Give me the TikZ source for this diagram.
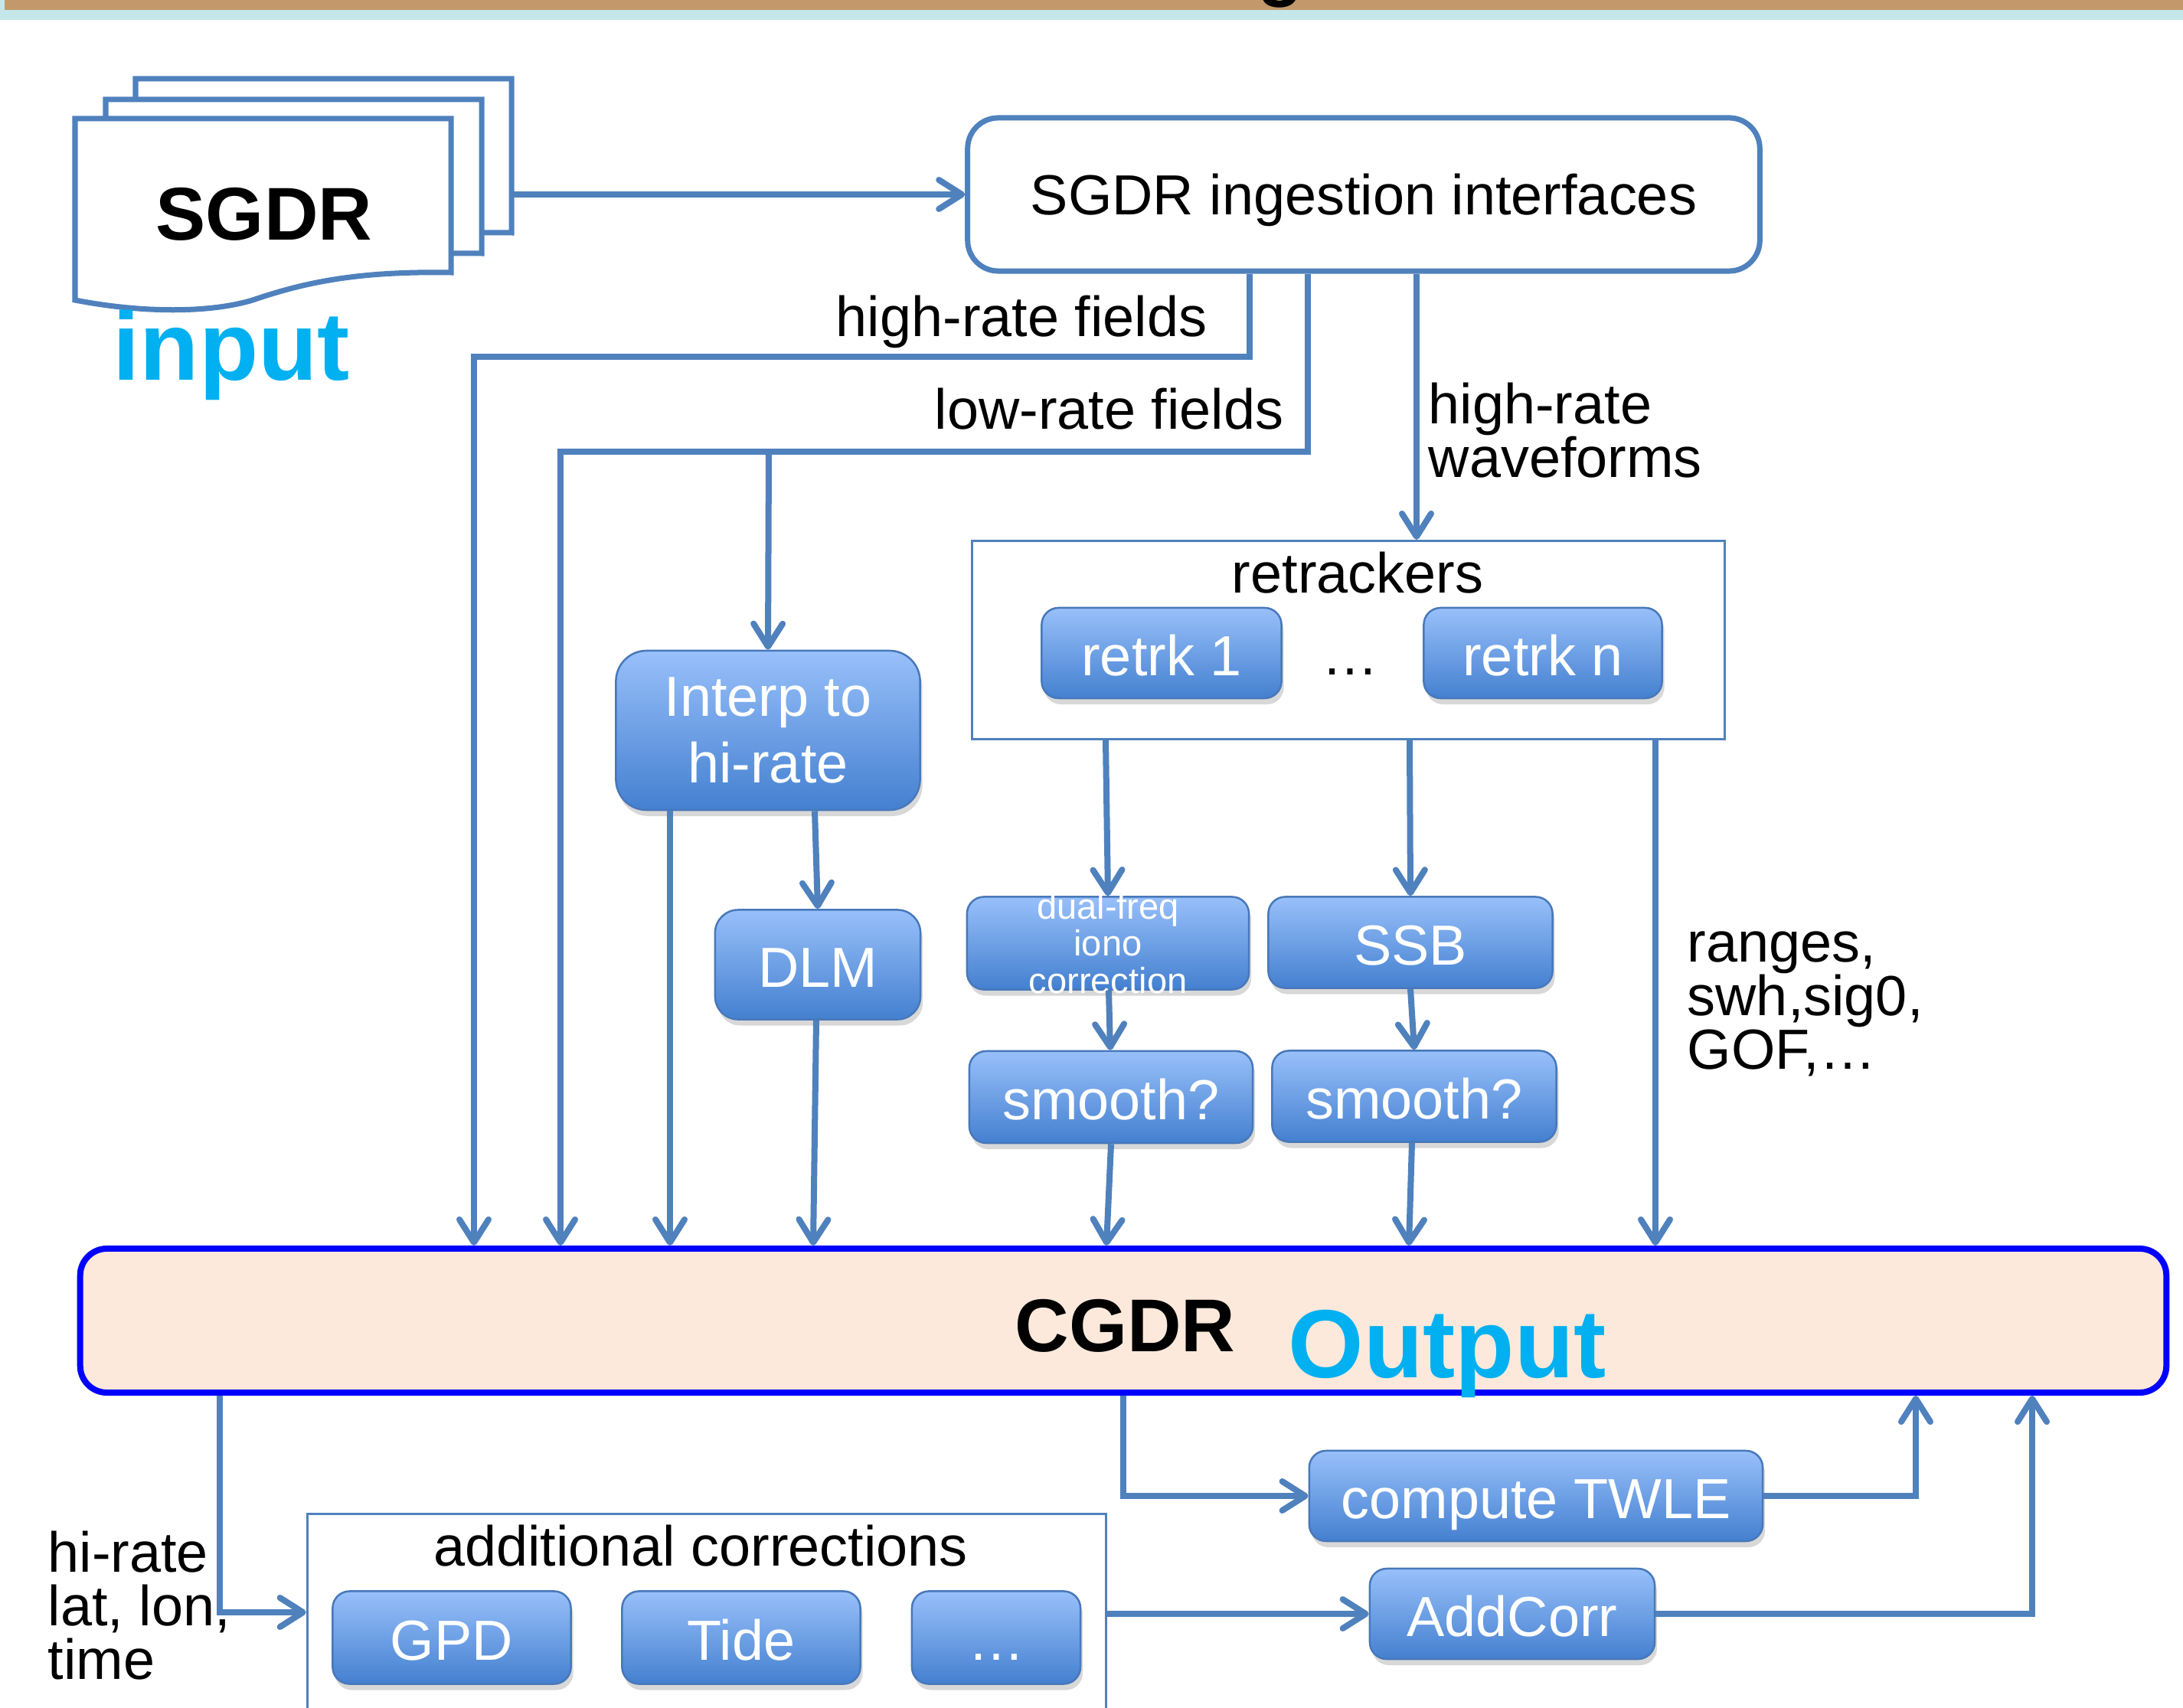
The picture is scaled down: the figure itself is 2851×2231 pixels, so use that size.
\documentclass[tikz,border=0pt]{standalone}
\usepackage{fontspec}
\setmainfont{Liberation Sans}
\usepackage{xcolor}
\usepackage{tikz}
\usetikzlibrary{arrows.meta,shadows}

\definecolor{lineblue}{RGB}{79,129,189}
\definecolor{boxtop}{RGB}{152,192,250}
\definecolor{boxbot}{RGB}{68,128,208}
\definecolor{boxedge}{RGB}{72,120,186}
\definecolor{outfill}{RGB}{252,233,219}
\definecolor{titlecyan}{RGB}{0,176,240}
\definecolor{bartan}{RGB}{195,153,107}
\definecolor{barcyan}{RGB}{197,231,234}

\newcommand{\txtnorm}{\fontsize{21}{19.9}\selectfont}
\newcommand{\txtbold}{\fontsize{27.8}{30}\selectfont\bfseries}
\newcommand{\txthuge}{\fontsize{36}{40}\selectfont\bfseries}
\newcommand{\txtsmall}{\fontsize{13.4}{13.7}\selectfont}

\tikzset{
  conn/.style={draw=lineblue, line width=0.08cm, -{Straight Barb[length=0.3cm,width=0.38cm,round]}},
  page/.style={draw=lineblue, line width=0.07cm, fill=white},
  bluebox/.style={draw=boxedge, line width=0.025cm, rounded corners=0.22cm,
    top color=boxtop, bottom color=boxbot, text=white, inner sep=0pt, align=center,
    drop shadow={shadow xshift=0.03cm, shadow yshift=-0.08cm, opacity=0.3}},
  bluetext/.style={bluebox, text height=0.58cm, text depth=0pt},
  groupbox/.style={draw=lineblue, line width=0.03cm, inner sep=0pt},
}

\begin{document}
\begin{tikzpicture}[x=0.01cm, y=-0.01cm, font=\txtnorm]
        \useasboundingbox (0,0) rectangle (2851,2231);
        \clip (0,0) rectangle (2851,2231);
        \fill[white] (0,0) rectangle (2851,2231);

        % title bar, cut at the top
        \fill[barcyan] (0,0) rectangle (2851,26);
        \fill[bartan] (6,0) rectangle (2851,13);
        \node[anchor=base, font=\txtbold, inner sep=0pt] (titleg) at (1672,-10) {g};

        % stack of SGDR files
        \foreach \dx/\dy in {79/-52, 40/-25, 0/0}
        \draw[page, shift={(\dx,\dy)}] (98,155) -- (589,155) -- (589,356)
            .. controls (470,354) and (400,368) .. (330,392)
            .. controls (270,410) and (180,408) .. (98,392) -- cycle;
        \node[font=\txtbold] (sgdr) at (345,280) {SGDR};
        \node[anchor=base west, font=\txthuge, text=titlecyan, inner sep=0pt] (input) at (147,497) {input};
        \coordinate (stackr) at (665,254);

        \node[draw=lineblue, line width=0.07cm, rounded corners=0.4cm, fill=white, text depth=0pt,
            minimum width=10.34cm, minimum height=2.0cm] (ingest) at (1781,254) {SGDR ingestion interfaces};
        \draw[conn] (stackr) -- (ingest.west);

        % retrackers
        \node[groupbox, minimum width=9.83cm, minimum height=2.59cm] (retrk) at (1761,836) {};
        \node (retrlab) at (1773,748) {retrackers};
        \node[bluetext, minimum width=3.13cm, minimum height=1.18cm] (retrk1) at (1517,853) {retrk 1};
        \node[bluetext, minimum width=3.11cm, minimum height=1.18cm] (retrkn) at (2015,853) {retrk n};
        \node[anchor=base, inner sep=0pt] (rdots) at (1763,882) {…};

        \node[bluebox, rounded corners=0.4cm, minimum width=3.97cm, minimum height=2.08cm,
            font=\fontsize{21}{24.5}\selectfont] (interp) at (1003,954) {Interp to\\hi-rate};
        \node[bluetext, rounded corners=0.3cm, minimum width=2.68cm, minimum height=1.43cm] (dlm) at (1068,1260) {DLM};

        \node[bluebox, minimum width=3.68cm, minimum height=1.21cm] (iono) at (1447,1232) {};
        \node[text=white, font=\txtsmall, align=center, inner sep=0pt] (ionotxt) at (iono) {dual-freq\\iono\\correction};
        \node[bluetext, minimum width=3.71cm, minimum height=1.19cm] (ssb) at (1842,1231) {SSB};
        \node[bluetext, minimum width=3.70cm, minimum height=1.20cm] (smootha) at (1451,1433) {smooth?};
        \node[bluetext, minimum width=3.71cm, minimum height=1.19cm] (smoothb) at (1847,1432) {smooth?};

        % output product
        \node[draw=blue, line width=0.08cm, rounded corners=0.35cm, fill=outfill,
            minimum width=27.23cm, minimum height=1.88cm] (cgdr) at (1467,1725) {};
        \node[anchor=base west, font=\txtbold, inner sep=0pt] (cgdrtxt) at (1325,1765) {CGDR};
        \node[anchor=base west, font=\txthuge, text=titlecyan, inner sep=0pt] (output) at (1682,1799) {Output};

        % corrections
        \node[bluetext, minimum width=5.92cm, minimum height=1.18cm] (twle) at (2006,1954) {compute TWLE};
        \node[bluetext, minimum width=3.72cm, minimum height=1.18cm] (addcorr) at (1975,2108) {AddCorr};
        \node[groupbox, minimum width=10.43cm, minimum height=3.04cm] (addl) at (923,2130) {};
        \node (addlab) at (915,2019) {additional corrections};
        \node[bluetext, minimum width=3.11cm, minimum height=1.21cm] (gpd) at (590,2139) {GPD};
        \node[bluetext, minimum width=3.11cm, minimum height=1.21cm] (tide) at (968,2139) {Tide};
        \node[bluetext, minimum width=2.20cm, minimum height=1.21cm] (adots) at (1301,2139) {…};

        % labels
        \node[anchor=base east, inner sep=0pt] (hrflab) at (1577,440) {high-rate fields};
        \node[anchor=base east, inner sep=0pt] (lrflab) at (1677,561) {low-rate fields};
        \node[anchor=north west, align=left, inner sep=0pt] (wflab) at (1865,499) {high-rate\\waveforms};
        \node[anchor=north west, align=left, inner sep=0pt] (rglab) at (2203,1216) {ranges,\\swh,sig0,\\GOF,…};
        \node[anchor=north west, align=left, inner sep=0pt] (hrlab) at (62,1999) {hi-rate\\lat, lon,\\time};

        % connectors
        \draw[conn] (ingest.south -| 1632,0) -- (1632,466) -| (cgdr.north -| 619,0);
        \draw[conn] (ingest.south -| 1708,0) -- (1708,590) -| (cgdr.north -| 732,0);
        \coordinate (lrsplit) at (1004,590);
        \draw[conn] (lrsplit) -- (interp.north);
        \draw[conn] (ingest.south -| 1850,0) -- (retrk.north -| 1850,0);
        \draw[conn] (interp.south -| 875,0) -- (cgdr.north -| 875,0);
        \draw[conn] (interp.south -| 1064,0) -- (dlm.north);
        \draw[conn] (dlm.south -| 1066,0) -- (cgdr.north -| 1062,0);
        \draw[conn] (retrk.south -| 1444,0) -- (iono.north);
        \draw[conn] (retrk.south -| 1841,0) -- (ssb.north);
        \draw[conn] (retrk.south -| 2162,0) -- (cgdr.north -| 2162,0);
        \draw[conn] (iono.south -| 1448,0) -- (smootha.north -| 1450,0);
        \draw[conn] (ssb.south) -- (smoothb.north);
        \draw[conn] (smootha.south) -- (cgdr.north -| 1445,0);
        \draw[conn] (smoothb.south -| 1844,0) -- (cgdr.north -| 1840,0);
        \draw[conn] (cgdr.south -| 287,0) |- (addl.west |- 0,2106);
        \draw[conn] (cgdr.south -| 1467,0) |- (twle.west);
        \draw[conn] (twle.east) -| (cgdr.south -| 2502,0);
        \draw[conn] (addl.east |- 0,2108) -- (addcorr.west);
        \draw[conn] (addcorr.east) -| (cgdr.south -| 2654,0);
\end{tikzpicture}
\end{document}
